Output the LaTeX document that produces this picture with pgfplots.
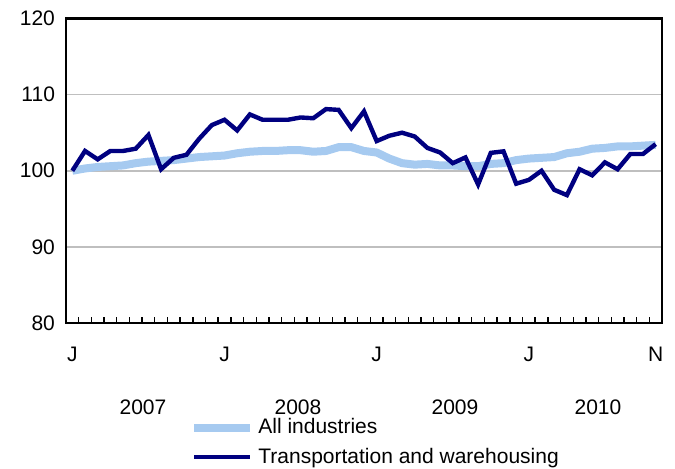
\documentclass[border=0pt]{standalone}
\usepackage{pgfplots}
\pgfplotsset{compat=1.18}
\usepackage{fontspec}
\setmainfont{Liberation Sans}
\newcommand\f{\fontsize{10.5}{12}\selectfont}
\definecolor{allind}{RGB}{166,202,240}
\definecolor{trans}{RGB}{0,0,128}
\begin{document}
\begin{tikzpicture}[font=\f]
\begin{axis}[
  at={(0,0)}, anchor=south west,
  scale only axis, width=298pt, height=152.25pt,
  xmin=-0.5, xmax=46.5, ymin=80, ymax=120,
  clip mode=individual,
  axis line style={line width=1.4pt, black},
  xtick={0,12,24,36,46},
  xticklabels={J,J,J,J,N},
  minor xtick={0.5,1.5,...,45.5},
  xtick pos=bottom, ytick pos=left,
  tick align=inside,
  major tick length=0pt,
  minor tick length=3.2pt,
  minor tick style={line width=0.7pt, black},
  ytick={80,90,100,110,120},
  ymajorgrids,
  grid style={line width=0.8pt, black!25},
  /pgf/number format/assume math mode=true,
  tick label style={font=\f},
  xticklabel style={yshift=-8.5pt},
  yticklabel style={xshift=-2pt},
  legend style={draw=none, fill=none, at={(0.208,-0.30)}, anchor=north west,
     font=\f, legend cell align=left, row sep=1.5pt, inner sep=0pt},
  legend image code/.code={\draw[#1] (0pt,0pt) -- (28pt,0pt);},
]
\addplot[allind, line width=4pt] coordinates {
(0,100)(1,100.3)(2,100.5)(3,100.6)(4,100.7)(5,101.0)(6,101.2)(7,101.3)(8,101.4)(9,101.6)
(10,101.8)(11,101.9)(12,102.0)(13,102.3)(14,102.5)(15,102.6)(16,102.6)(17,102.7)(18,102.7)(19,102.5)
(20,102.6)(21,103.1)(22,103.1)(23,102.6)(24,102.4)(25,101.6)(26,101.0)(27,100.8)(28,100.9)(29,100.7)
(30,100.7)(31,100.6)(32,100.6)(33,100.9)(34,101.0)(35,101.4)(36,101.6)(37,101.7)(38,101.8)(39,102.3)
(40,102.5)(41,102.9)(42,103.0)(43,103.2)(44,103.2)(45,103.3)(46,103.4)};
\addlegendentry{All industries}
\addplot[trans, line width=2.2pt] coordinates {
(0,100)(1,102.6)(2,101.5)(3,102.6)(4,102.6)(5,102.9)(6,104.7)(7,100.2)(8,101.7)(9,102.1)
(10,104.2)(11,106.0)(12,106.7)(13,105.3)(14,107.4)(15,106.7)(16,106.7)(17,106.7)(18,107.0)(19,106.9)
(20,108.1)(21,108.0)(22,105.6)(23,107.8)(24,103.9)(25,104.6)(26,105.0)(27,104.5)(28,103.0)(29,102.4)
(30,101.0)(31,101.75)(32,98.2)(33,102.35)(34,102.55)(35,98.3)(36,98.8)(37,100.0)(38,97.5)(39,96.8)
(40,100.2)(41,99.4)(42,101.1)(43,100.2)(44,102.2)(45,102.2)(46,103.5)};
\addlegendentry{Transportation and warehousing}
\end{axis}
\node[anchor=north] at (38.5pt,-35pt) {2007};
\node[anchor=north] at (116pt,-35pt) {2008};
\node[anchor=north] at (194.5pt,-35pt) {2009};
\node[anchor=north] at (266pt,-35pt) {2010};
\pgfresetboundingbox
\useasboundingbox (-33pt,-72.5pt) rectangle (304.5pt,161.5pt);
\end{tikzpicture}
\end{document}
